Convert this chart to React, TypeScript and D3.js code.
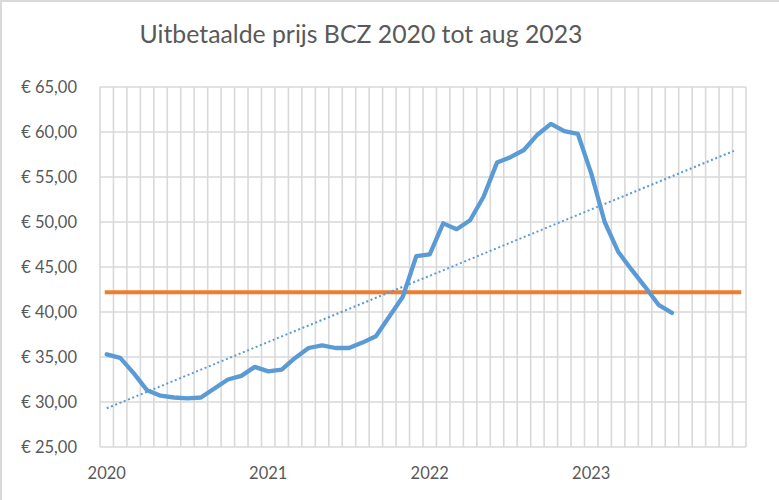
import React from "react";
import * as d3 from "d3";

const title = "Uitbetaalde prijs BCZ 2020 tot aug 2023";
const years = ["2020", "2021", "2022", "2023"];
const monthsPerYear = 12;
// Uitbetaalde prijs per maand, jan 2020 – jul 2023
const prices = [
  35.3, 34.9, 33.2, 31.3, 30.7, 30.5, 30.4, 30.5, 31.5, 32.5, 32.9, 33.9,
  33.4, 33.6, 34.9, 36.0, 36.3, 36.0, 36.0, 36.6, 37.3, 39.5, 41.7, 46.2,
  46.4, 49.85, 49.2, 50.2, 52.8, 56.6, 57.2, 58.0, 59.7, 60.9, 60.1, 59.8,
  55.4, 50.0, 46.7, 44.7, 42.8, 40.8, 39.9,
];
const averagePrice = 42.2;
const trendIndex = [0, 46.6];
const trendValue = [29.3, 57.9];
const yTicks = [25, 30, 35, 40, 45, 50, 55, 60, 65];

const W = 779;
const H = 500;
const M = { left: 100, right: 746, top: 87, bottom: 447 };
const FONT = "Lato, 'Open Sans', sans-serif";
const TEXT = "#595959";
const GRID = "#D9D9D9";
const BLUE = "#5B9BD5";
const ORANGE = "#ED7D31";

export default function App() {
  const nMonths = years.length * monthsPerYear;
  const slots = d3.range(nMonths);
  const x = d3.scaleBand<number>().domain(slots).range([M.left, M.right]).padding(0);
  const bw = x.bandwidth();
  const cx = (i: number) => M.left + (i + 0.5) * bw;
  const y = d3.scaleLinear().domain([25, 65]).range([M.bottom, M.top]);

  const line = d3
    .line<number>()
    .x((_, i) => cx(i))
    .y((d) => y(d));

  const priceLine = line(prices) || "";
  const avgPath =
    d3.line<number>().x((i) => cx(i)).y(() => y(averagePrice))([0, nMonths - 1]) || "";
  const trendPath =
    d3
      .line<number>()
      .x((_, k) => cx(trendIndex[k]))
      .y((d) => y(d))(trendValue) || "";

  const fmt = (v: number) => "€ " + v.toFixed(2).replace(".", ",");

  return (
    <svg
      width={W}
      height={H}
      style={{ position: "absolute", left: 0, top: 0, background: "#fff" }}
      fontFamily={FONT}
    >
      <rect x={0} y={0} width={W} height={H} fill="#fff" />
      <line x1={0} y1={1} x2={W} y2={1} stroke={GRID} strokeWidth={2} />
      <line x1={1} y1={0} x2={1} y2={H} stroke={GRID} strokeWidth={2} />

      <text
        x={361}
        y={43}
        textAnchor="middle"
        fontSize={24.8}
        fill={TEXT}
      >
        {title}
      </text>

      {/* horizontal gridlines */}
      {yTicks.map((t) => (
        <line
          key={"h" + t}
          x1={M.left}
          x2={M.right}
          y1={y(t)}
          y2={y(t)}
          stroke={GRID}
          strokeWidth={1.6}
        />
      ))}
      {/* vertical gridlines */}
      {d3.range(nMonths + 1).map((i) => {
        const xx = i < nMonths ? (x(i) as number) : M.right;
        return (
          <line
            key={"v" + i}
            x1={xx}
            x2={xx}
            y1={M.top}
            y2={M.bottom}
            stroke={GRID}
            strokeWidth={1.6}
          />
        );
      })}

      {yTicks.map((t) => (
        <text
          key={"yl" + t}
          x={77}
          y={y(t)}
          dy="0.35em"
          textAnchor="end"
          fontSize={16.5}
          fill={TEXT}
        >
          {fmt(t)}
        </text>
      ))}
      {years.map((yr, k) => (
        <text
          key={yr}
          x={cx(k * monthsPerYear)}
          y={479}
          textAnchor="middle"
          fontSize={16.5}
          fill={TEXT}
        >
          {yr}
        </text>
      ))}

      <path d={avgPath} fill="none" stroke={ORANGE} strokeWidth={4} strokeLinecap="square" />
      <path
        d={trendPath}
        fill="none"
        stroke={BLUE}
        strokeWidth={2}
        strokeDasharray="2 2.6"
      />
      <path
        d={priceLine}
        fill="none"
        stroke={BLUE}
        strokeWidth={4.3}
        strokeLinejoin="round"
        strokeLinecap="round"
      />
    </svg>
  );
}
